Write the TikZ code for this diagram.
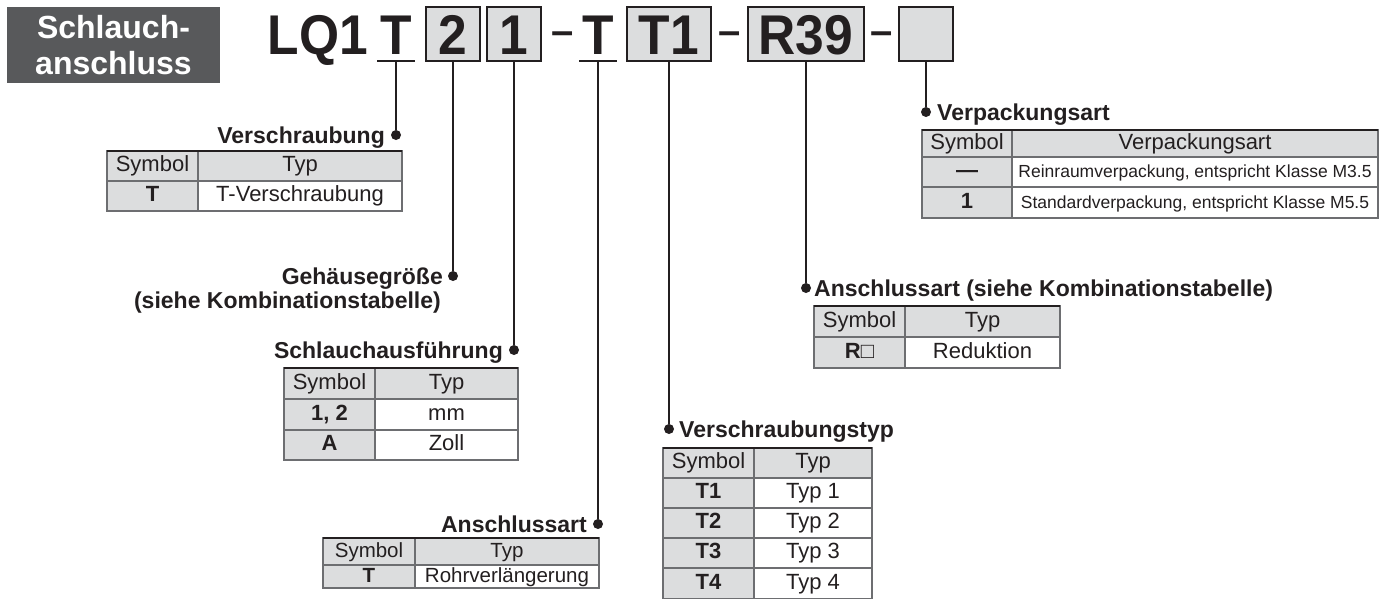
\documentclass[tikz,border=0pt]{standalone}
\usepackage{fontspec}
\setmainfont{Liberation Sans}
\newfontfamily\codefamily[FakeStretch=0.92]{Liberation Sans}
\usetikzlibrary{positioning}

\definecolor{titlegray}{HTML}{58595B}
\definecolor{codefill}{HTML}{DCDDDE}
\definecolor{inkblack}{HTML}{231F20}
\definecolor{rulegray}{HTML}{6D6E71}

\newcommand{\codefont}{\codefamily\fontsize{56}{60}\selectfont\bfseries}
\newcommand{\labfont}{\fontsize{23}{27}\selectfont\bfseries}
\newcommand{\tabfont}{\fontsize{22}{26}\selectfont}
\newcommand{\smalltabfont}{\fontsize{20.5}{24}\selectfont}
\newcommand{\tinytabfont}{\fontsize{17.5}{21}\selectfont}

\begin{document}
\begin{tikzpicture}[
    x=1pt, y=-1pt,
    code/.style={rectangle, inner sep=0pt, outer sep=0pt, minimum height=54pt, text height=40pt, text depth=0pt, font=\codefont, text=inkblack},
    codebox/.style={code, draw=inkblack, line width=2pt, fill=codefill},
    codedash/.style={inner sep=0pt, font=\fontsize{40}{40}\selectfont\bfseries, text=inkblack},
    lead/.style={draw=inkblack, line width=1.5pt},
    blob/.style={circle, fill=inkblack, inner sep=0pt, minimum size=10pt},
    lbl/.style={inner sep=0pt, font=\labfont, text=inkblack},
    cell/.style={rectangle, draw=rulegray, line width=1.2pt, inner sep=0pt, outer sep=0pt, text height=16pt, text depth=4.5pt, font=\tabfont, text=inkblack},
    headcell/.style={cell, fill=codefill},
    symcell/.style={cell, fill=codefill, font=\tabfont\bfseries},
    valcell/.style={cell, fill=white},
    topline/.style={draw=inkblack, line width=2.2pt}
]
    \useasboundingbox (0,0) rectangle (1391,598);

    % title
    \node[fill=titlegray, text=white, font=\fontsize{32}{36}\selectfont\bfseries, align=center, minimum width=213pt, minimum height=76pt, inner sep=0pt] (title) at (113.5,45) {Schlauch-\\anschluss};

    % part number
    \node[code] (series) at (318,34) {LQ1};
    \node[code, minimum width=38pt] (connT) at (396,34) {T};
    \node[codebox, minimum width=54pt] (sizeBox) at (453,34) {2};
    \node[codebox, minimum width=54pt] (tubeBox) at (514,34) {1};
    \node[codedash, anchor=base] (dashA) at (563,44) {–};
    \node[code, minimum width=38pt] (portT) at (598,34) {T};
    \node[codebox, minimum width=84pt] (typeBox) at (669,34) {T1};
    \node[codedash, anchor=base] (dashB) at (729.5,44) {–};
    \node[codebox, minimum width=116pt] (redBox) at (806,34) {R39};
    \node[codedash, anchor=base] (dashC) at (882,44) {–};
    \node[codebox, minimum width=54pt] (packBox) at (926,34) {};

    \draw[lead, line width=2pt] (connT.south west) -- (connT.south east);
    \draw[lead, line width=2pt] (portT.south west) -- (portT.south east);

    % leader ends
    \node[blob] (connDot) at (396,135) {};
    \node[blob] (sizeDot) at (453,276) {};
    \node[blob] (tubeDot) at (514,350) {};
    \node[blob] (portDot) at (598,524) {};
    \node[blob] (typeDot) at (669,429) {};
    \node[blob] (redDot) at (806,288) {};
    \node[blob] (packDot) at (926,112) {};

    \draw[lead] (connT.south) -- (connDot);
    \draw[lead] (sizeBox.south) -- (sizeDot);
    \draw[lead] (tubeBox.south) -- (tubeDot);
    \draw[lead] (portT.south) -- (portDot);
    \draw[lead] (typeBox.south) -- (typeDot);
    \draw[lead] (redBox.south) -- (redDot);
    \draw[lead] (packBox.south) -- (packDot);

    % labels
    \node[lbl, anchor=base east] (connLab) at ([xshift=-11pt, yshift=-8pt]connDot.center) {Verschraubung};
    \node[lbl, anchor=base east] (sizeLab) at ([xshift=-10pt, yshift=-8pt]sizeDot.center) {Gehäusegröße};
    \node[lbl, anchor=base east] (sizeLabB) at ([xshift=-2pt, yshift=-24pt]sizeLab.base east) {(siehe Kombinationstabelle)};
    \node[lbl, anchor=base east] (tubeLab) at ([xshift=-11pt, yshift=-8pt]tubeDot.center) {Schlauchausführung};
    \node[lbl, anchor=base east] (portLab) at ([xshift=-11pt, yshift=-8pt]portDot.center) {Anschlussart};
    \node[lbl, anchor=base west] (typeLab) at ([xshift=10pt, yshift=-8pt]typeDot.center) {Verschraubungstyp};
    \node[lbl, anchor=base west] (redLab) at ([xshift=8pt, yshift=-8pt]redDot.center) {Anschlussart (siehe Kombinationstabelle)};
    \node[lbl, anchor=base west] (packLab) at ([xshift=11pt, yshift=-8pt]packDot.center) {Verpackungsart};

    % table: Verschraubung
    \node[headcell, minimum width=91pt, minimum height=30pt, anchor=north west] (connH1) at (107,151) {Symbol};
    \node[headcell, minimum width=204pt, minimum height=30pt, right=0pt of connH1] (connH2) {Typ};
    \node[symcell, minimum width=91pt, minimum height=30pt, below=0pt of connH1] (connS1) {T};
    \node[valcell, minimum width=204pt, minimum height=30pt, below=0pt of connH2] (connV1) {T-Verschraubung};
    \draw[topline] (connH1.north west) -- (connH2.north east);

    % table: Schlauchausfuehrung
    \node[headcell, minimum width=91pt, minimum height=31pt, anchor=north west] (tubeH1) at (284,368) {Symbol};
    \node[headcell, minimum width=143pt, minimum height=31pt, right=0pt of tubeH1] (tubeH2) {Typ};
    \node[symcell, minimum width=91pt, minimum height=31pt, below=0pt of tubeH1] (tubeS1) {1, 2};
    \node[valcell, minimum width=143pt, minimum height=31pt, below=0pt of tubeH2] (tubeV1) {mm};
    \node[symcell, minimum width=91pt, minimum height=30pt, below=0pt of tubeS1] (tubeS2) {A};
    \node[valcell, minimum width=143pt, minimum height=30pt, below=0pt of tubeV1] (tubeV2) {Zoll};
    \draw[topline] (tubeH1.north west) -- (tubeH2.north east);

    % table: Anschlussart
    \node[headcell, font=\smalltabfont, minimum width=92pt, minimum height=27pt, anchor=north west] (portH1) at (323,538) {Symbol};
    \node[headcell, font=\smalltabfont, minimum width=184pt, minimum height=27pt, right=0pt of portH1] (portH2) {Typ};
    \node[symcell, font=\smalltabfont\bfseries, minimum width=92pt, minimum height=23pt, below=0pt of portH1] (portS1) {T};
    \node[valcell, font=\smalltabfont, minimum width=184pt, minimum height=23pt, below=0pt of portH2] (portV1) {Rohrverlängerung};
    \draw[topline] (portH1.north west) -- (portH2.north east);

    % table: Verschraubungstyp
    \node[headcell, minimum width=91pt, minimum height=30pt, anchor=north west] (typeH1) at (663,448) {Symbol};
    \node[headcell, minimum width=118pt, minimum height=30pt, right=0pt of typeH1] (typeH2) {Typ};
    \node[symcell, minimum width=91pt, minimum height=30pt, below=0pt of typeH1] (typeS1) {T1};
    \node[valcell, minimum width=118pt, minimum height=30pt, below=0pt of typeH2] (typeV1) {Typ 1};
    \node[symcell, minimum width=91pt, minimum height=30pt, below=0pt of typeS1] (typeS2) {T2};
    \node[valcell, minimum width=118pt, minimum height=30pt, below=0pt of typeV1] (typeV2) {Typ 2};
    \node[symcell, minimum width=91pt, minimum height=30pt, below=0pt of typeS2] (typeS3) {T3};
    \node[valcell, minimum width=118pt, minimum height=30pt, below=0pt of typeV2] (typeV3) {Typ 3};
    \node[symcell, minimum width=91pt, minimum height=31pt, below=0pt of typeS3] (typeS4) {T4};
    \node[valcell, minimum width=118pt, minimum height=31pt, below=0pt of typeV3] (typeV4) {Typ 4};
    \draw[topline] (typeH1.north west) -- (typeH2.north east);

    % table: Reduktion
    \node[headcell, minimum width=91pt, minimum height=31pt, anchor=north west] (redH1) at (814,306) {Symbol};
    \node[headcell, minimum width=155pt, minimum height=31pt, right=0pt of redH1] (redH2) {Typ};
    \node[symcell, minimum width=91pt, minimum height=31pt, below=0pt of redH1] (redS1) {R{\mdseries □}};
    \node[valcell, minimum width=155pt, minimum height=31pt, below=0pt of redH2] (redV1) {Reduktion};
    \draw[topline] (redH1.north west) -- (redH2.north east);

    % table: Verpackungsart
    \node[headcell, minimum width=90pt, minimum height=27pt, anchor=north west] (packH1) at (922,130) {Symbol};
    \node[headcell, minimum width=366pt, minimum height=27pt, right=0pt of packH1] (packH2) {Verpackungsart};
    \node[symcell, minimum width=90pt, minimum height=30pt, below=0pt of packH1] (packS1) {—};
    \node[valcell, font=\tinytabfont, minimum width=366pt, minimum height=30pt, below=0pt of packH2] (packV1) {Reinraumverpackung, entspricht Klasse M3.5};
    \node[symcell, minimum width=90pt, minimum height=31pt, below=0pt of packS1] (packS2) {1};
    \node[valcell, font=\tinytabfont, minimum width=366pt, minimum height=31pt, below=0pt of packV1] (packV2) {Standardverpackung, entspricht Klasse M5.5};
    \draw[topline] (packH1.north west) -- (packH2.north east);

\end{tikzpicture}
\end{document}
